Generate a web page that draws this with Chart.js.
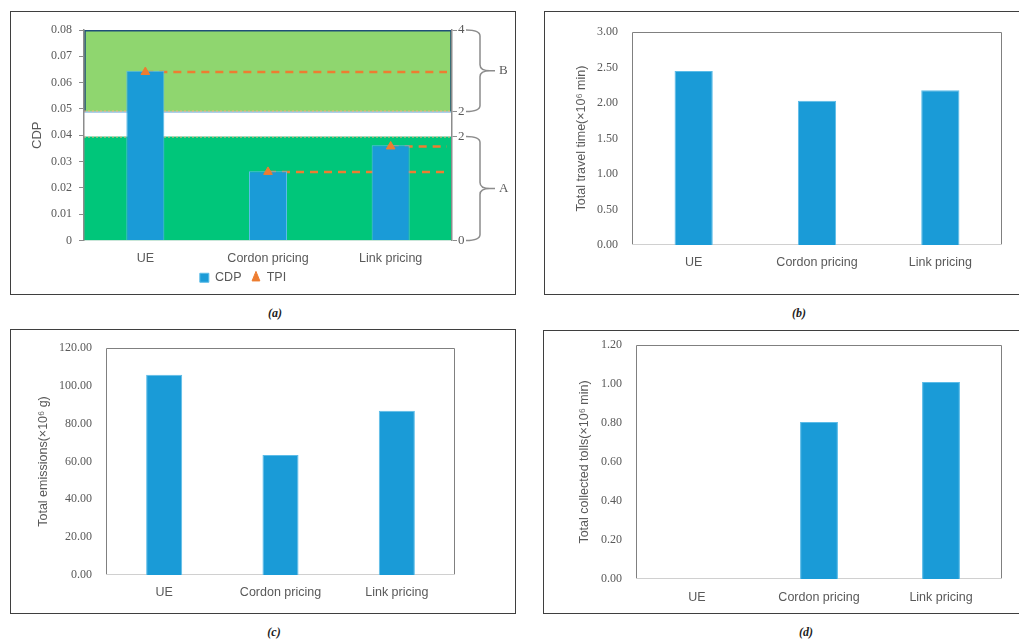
<!DOCTYPE html>
<html><head><meta charset="utf-8">
<script src="https://cdn.jsdelivr.net/npm/chart.js@4.4.0/dist/chart.umd.min.js"></script>
<style>
html,body{margin:0;padding:0;background:#fff;width:1019px;height:641px;overflow:hidden;position:relative;}
.frame{position:absolute;box-sizing:border-box;border:1.5px solid #3f3f3f;}
.cv{position:absolute;}
.cap{position:absolute;font-family:"Liberation Serif",serif;font-style:italic;font-weight:bold;font-size:12px;color:#222;transform:translateX(-50%);line-height:14px;}
</style></head><body>
<div class="frame" style="left:10px;top:11px;width:506px;height:284px"></div>
<div class="frame" style="left:544px;top:11px;width:500px;height:284px"></div>
<div class="frame" style="left:10px;top:329px;width:506px;height:285px"></div>
<div class="frame" style="left:543px;top:330px;width:500px;height:284px"></div>
<div class="cv" style="left:12px;top:13px;width:502px;height:287px"><canvas id="ca"></canvas></div>
<div class="cv" style="left:546px;top:13px;width:473px;height:281px"><canvas id="cb"></canvas></div>
<div class="cv" style="left:12px;top:331px;width:502px;height:281px"><canvas id="cc"></canvas></div>
<div class="cv" style="left:545px;top:332px;width:474px;height:280px"><canvas id="cd"></canvas></div>
<div class="cap" style="left:275px;top:306px">(a)</div>
<div class="cap" style="left:799px;top:306px">(b)</div>
<div class="cap" style="left:274px;top:625px">(c)</div>
<div class="cap" style="left:806px;top:625px">(d)</div>
<script>
// ---- data ----
const categories = ['UE', 'Cordon pricing', 'Link pricing'];
const cdpValues = [0.0645, 0.0263, 0.0362];
const tpiValues = [2.97, 1.32, 1.81];
const cdpMax = 0.08;
const tpiTickValues = [0, 2, 2, 4];
const tpiBreakA = 0.0395;   // CDP-axis level where TPI segment A (0-2) ends
const tpiBreakB = 0.049;    // CDP-axis level where TPI segment B (2-4) starts
const travelTime = [2.45, 2.03, 2.18];
const emissions = [105.8, 63.5, 86.8];
const tolls = [0, 0.805, 1.01];

// ---- helpers ----
const GREY = '#595959';
const SERIF = 'Liberation Serif';
const SANS = 'Liberation Sans';
const BAR = '#1a9bd7';
Chart.defaults.animation = false;
Chart.defaults.color = GREY;

function tpiToAxis(t, seg) {
  if (seg === 'A' || (seg === undefined && t <= 2)) return t / 2 * tpiBreakA;
  return tpiBreakB + (t - 2) / 2 * (cdpMax - tpiBreakB);
}
const tpiTickPositions = tpiTickValues.map((t, i) => tpiToAxis(t, i < 2 ? 'A' : 'B'));

const framePlugin = {
  id: 'frame',
  beforeDatasetsDraw(chart) {
    const {ctx, chartArea: {left, top, right, bottom}} = chart;
    ctx.save();
    ctx.strokeStyle = '#808080'; ctx.lineWidth = 1;
    ctx.beginPath();
    ctx.moveTo(left + 0.5, bottom); ctx.lineTo(left + 0.5, top + 0.5);
    ctx.lineTo(right - 0.5, top + 0.5); ctx.lineTo(right - 0.5, bottom);
    ctx.stroke();
    ctx.strokeStyle = '#d0d0d0';
    ctx.beginPath(); ctx.moveTo(left, bottom - 0.5); ctx.lineTo(right, bottom - 0.5); ctx.stroke();
    ctx.restore();
  }
};

function simpleBar(id, values, max, step, title, geo) {
  return new Chart(document.getElementById(id), {
    type: 'bar',
    data: {labels: categories, datasets: [{data: values, backgroundColor: BAR, borderColor: '#5cbce8', borderWidth: 1,
      barPercentage: 0.31, categoryPercentage: 1}]},
    plugins: [framePlugin],
    options: {
      responsive: true, maintainAspectRatio: false,
      layout: {padding: {left: 0, top: geo.padTop, right: geo.padRight, bottom: 0}},
      plugins: {legend: {display: false}, tooltip: {enabled: false}},
      scales: {
        x: {grid: {display: false, drawTicks: false}, border: {display: false},
            ticks: {font: {family: SANS, size: 12.5}, color: GREY, padding: geo.xPad},
            afterFit: s => { s.height = geo.xH; }},
        y: {min: 0, max: max, grid: {display: false, drawTicks: true, tickLength: 12}, border: {display: false},
            ticks: {stepSize: step, font: {family: SERIF, size: 12}, color: GREY, padding: 2,
                    callback: v => Number(v).toFixed(2)},
            title: {display: true, text: title, font: {family: SANS, size: 12.5}, color: GREY,
                    padding: {top: geo.titlePad, bottom: 0}},
            afterFit: s => { s.width = geo.yW; }}
      }
    }
  });
}

// ---- panel (a) ----
const bandsPlugin = {
  id: 'bands',
  beforeDraw(chart) {
    const {ctx, chartArea: {left, right}, scales: {y}} = chart;
    const y0 = y.getPixelForValue(0), yA = y.getPixelForValue(tpiBreakA);
    const yB = y.getPixelForValue(tpiBreakB), yT = y.getPixelForValue(cdpMax);
    ctx.save();
    ctx.fillStyle = '#00c67a'; ctx.fillRect(left, yA, right - left, y0 - yA);
    ctx.fillStyle = '#8fd66f'; ctx.fillRect(left, yT, right - left, yB - yT);
    ctx.strokeStyle = '#1f4e79'; ctx.lineWidth = 1.5;
    ctx.beginPath();
    ctx.moveTo(left + 1, yB); ctx.lineTo(left + 1, yT + 0.75); ctx.lineTo(right - 1, yT + 0.75); ctx.lineTo(right - 1, yB);
    ctx.stroke();
    ctx.strokeStyle = '#6fa8dc'; ctx.lineWidth = 1;
    ctx.beginPath(); ctx.moveTo(left, yB + 0.5); ctx.lineTo(right, yB + 0.5); ctx.stroke();
    ctx.setLineDash([2, 2]); ctx.strokeStyle = '#f4b183';
    ctx.beginPath(); ctx.moveTo(left, yB - 0.5); ctx.lineTo(right, yB - 0.5); ctx.stroke();
    ctx.beginPath(); ctx.moveTo(left, yA + 0.5); ctx.lineTo(right, yA + 0.5); ctx.stroke();
    // dashed TPI level lines
    const meta = chart.getDatasetMeta(1);
    ctx.setLineDash([8, 6]); ctx.strokeStyle = '#ed7d31'; ctx.lineWidth = 2.5;
    meta.data.forEach(pt => {
      ctx.beginPath(); ctx.moveTo(pt.x, pt.y); ctx.lineTo(right - 5, pt.y); ctx.stroke();
    });
    ctx.restore();
  },
  afterLayout(chart) {
    const lg = chart.legend;
    lg.left -= 20; lg.right -= 20; lg.top -= 6; lg.bottom -= 6;
  },
  afterDraw(chart) {
    const {ctx, scales: {y2}} = chart;
    const x0 = y2.left + 14, xs = y2.left + 28, xt = y2.left + 38;
    function brace(top, bot, label) {
      const mid = (top + bot) / 2, r = 6;
      ctx.beginPath();
      ctx.moveTo(x0, top);
      ctx.quadraticCurveTo(xs, top, xs, top + r);
      ctx.lineTo(xs, mid - r);
      ctx.quadraticCurveTo(xs, mid, xt, mid);
      ctx.quadraticCurveTo(xs, mid, xs, mid + r);
      ctx.lineTo(xs, bot - r);
      ctx.quadraticCurveTo(xs, bot, x0, bot);
      ctx.moveTo(xt, mid); ctx.lineTo(xt + 5, mid);
      ctx.stroke();
      ctx.fillText(label, xt + 9, mid);
    }
    ctx.save();
    ctx.strokeStyle = '#8c8c8c'; ctx.lineWidth = 1.5;
    ctx.fillStyle = GREY; ctx.font = '13px "' + SERIF + '"'; ctx.textBaseline = 'middle';
    brace(y2.getPixelForValue(tpiTickPositions[3]), y2.getPixelForValue(tpiTickPositions[2]), 'B');
    brace(y2.getPixelForValue(tpiTickPositions[1]), y2.getPixelForValue(tpiTickPositions[0]), 'A');
    ctx.restore();
  }
};

new Chart(document.getElementById('ca'), {
  type: 'bar',
  data: {
    labels: categories,
    datasets: [
      {label: 'CDP', data: cdpValues, backgroundColor: BAR, borderColor: '#5cbce8', borderWidth: 1,
       barPercentage: 0.31, categoryPercentage: 1, pointStyle: 'rect', order: 2, yAxisID: 'y'},
      {label: 'TPI', type: 'line', data: tpiValues.map(t => tpiToAxis(t)), showLine: false,
       pointStyle: 'triangle', pointRadius: 5, backgroundColor: '#ed7d31', borderColor: '#ed7d31',
       order: 1, yAxisID: 'y'}
    ]
  },
  plugins: [bandsPlugin],
  options: {
    responsive: true, maintainAspectRatio: false,
    layout: {padding: {left: 0, top: 17, right: 0, bottom: 0}},
    plugins: {
      tooltip: {enabled: false},
      legend: {position: 'bottom',
        labels: {usePointStyle: true, boxHeight: 9, pointStyleWidth: 9, padding: 10,
                 font: {family: SANS, size: 12.5}, color: GREY,
                 sort: (a, b) => a.datasetIndex - b.datasetIndex}}
    },
    scales: {
      x: {grid: {display: false, drawTicks: false}, border: {display: true, color: '#c8e6d8'},
          ticks: {font: {family: SANS, size: 12.5}, color: GREY, padding: 10.5},
          afterFit: s => { s.height = 27; }},
      y: {position: 'left', min: 0, max: cdpMax,
          grid: {display: true, drawOnChartArea: false, drawTicks: true, tickLength: 5, color: '#8c8c8c'},
          border: {display: true, color: '#8c8c8c', width: 1.5},
          ticks: {stepSize: 0.01, font: {family: SERIF, size: 12}, color: GREY, padding: 7,
                  callback: v => v === 0 ? '0' : Number(v).toFixed(2)},
          title: {display: true, text: 'CDP', font: {family: SANS, size: 13}, color: GREY,
                  padding: {top: 18, bottom: 0}},
          afterFit: s => { s.width = 72; }},
      y2: {position: 'right', min: 0, max: cdpMax,
           grid: {display: true, drawOnChartArea: false, drawTicks: true, tickLength: 5, color: '#8c8c8c'},
           border: {display: true, color: '#8c8c8c', width: 1.5},
           afterBuildTicks: s => { s.ticks = tpiTickPositions.map(v => ({value: v})); },
           ticks: {autoSkip: false, font: {family: SERIF, size: 13}, color: GREY, padding: 1,
                   callback: (v, i) => String(tpiTickValues[i])},
           afterFit: s => { s.width = 62; }}
    }
  }
});

// ---- panels (b), (c), (d) ----
simpleBar('cb', travelTime, 3, 0.5, 'Total travel time(×10⁶ min)',
  {padTop: 19, padRight: 17, xH: 49, xPad: 10.5, yW: 86, titlePad: 28.5});
simpleBar('cc', emissions, 120, 20, 'Total emissions(×10⁶ g)',
  {padTop: 17, padRight: 59, xH: 37, xPad: 10.5, yW: 94, titlePad: 24.5});
simpleBar('cd', tolls, 1.2, 0.2, 'Total collected tolls(×10⁶ min)',
  {padTop: 13, padRight: 17, xH: 33, xPad: 11.5, yW: 91, titlePad: 32.5});
</script>
</body></html>
